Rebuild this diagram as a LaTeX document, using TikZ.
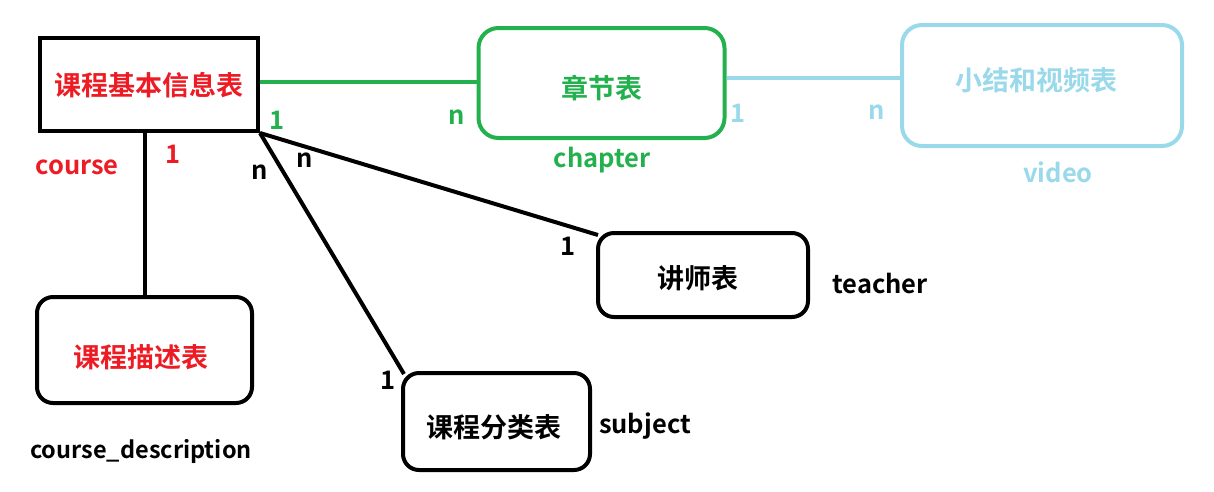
\documentclass[tikz,border=0pt]{standalone}
\usepackage{fontspec}
\setmainfont{Noto Sans CJK SC}[BoldFont={Noto Sans CJK SC Bold}]
\definecolor{myred}{RGB}{237,28,36}
\definecolor{mygreen}{RGB}{34,177,76}
\definecolor{myblue}{RGB}{153,217,234}
\tikzset{
  tbl/.style={draw, line width=4pt, inner sep=0pt},
  rtbl/.style={tbl, rounded corners=16pt},
  ttxt/.style={inner sep=0pt, font=\fontsize{27}{30}\selectfont\bfseries},
  lbl/.style={inner sep=0pt, font=\fontsize{25.5}{28}\selectfont\bfseries},
  conn/.style={line width=4pt}
}
\begin{document}
\begin{tikzpicture}[x=1pt,y=-1pt]
\useasboundingbox (0,0) rectangle (1214,491);
\node[tbl, minimum width=218pt, minimum height=93pt] (course) at (149,84.5) {};
\node[ttxt, text=myred] (coursetxt) at ([yshift=-0.5pt]course.center) {课程基本信息表};
\node[rtbl, draw=mygreen, minimum width=246pt, minimum height=110pt, rounded corners=20pt] (chapter) at (601.5,83) {};
\node[ttxt, text=mygreen] (chaptertxt) at ([yshift=-5pt]chapter.center) {章节表};
\node[rtbl, draw=myblue, minimum width=280pt, minimum height=121pt, rounded corners=20pt] (video) at (1042,85.5) {};
\node[ttxt, text=myblue] (videotxt) at ([xshift=-6pt,yshift=5.5pt]video.center) {小结和视频表};
\node[rtbl, minimum width=210pt, minimum height=84pt] (teacher) at (703,275) {};
\node[ttxt] (teachertxt) at ([xshift=-5pt,yshift=-3pt]teacher.center) {讲师表};
\node[rtbl, minimum width=215pt, minimum height=106pt] (desc) at (144.5,350) {};
\node[ttxt, text=myred] (desctxt) at ([xshift=-4pt,yshift=-7pt]desc.center) {课程描述表};
\node[rtbl, minimum width=187pt, minimum height=97pt] (subject) at (496.5,421.5) {};
\node[ttxt] (subjecttxt) at ([xshift=-3pt,yshift=-5.5pt]subject.center) {课程分类表};

\draw[conn, mygreen] ([yshift=2.5pt]course.east) -- ([yshift=1pt]chapter.west);
\draw[conn, myblue] ([yshift=5pt]chapter.east) -- ([yshift=7.5pt]video.west);
\draw[conn] (desc.north |- course.south) -- (desc.north);
\draw[conn] (course.south east) -- ([xshift=2pt,yshift=-4pt]teacher.north west);
\draw[conn] (course.south east) -- ([xshift=3pt,yshift=-3pt]subject.north west);

\node[lbl, text=mygreen] (g1) at (277,120) {1};
\node[lbl, text=mygreen] (gn) at (457,117) {n};
\node[lbl, text=mygreen] (chl) at (602,160) {chapter};
\node[lbl, text=myblue] (b1) at (738,113) {1};
\node[lbl, text=myblue] (bn) at (877,112) {n};
\node[lbl, text=myblue] (vl) at (1058,172) {video};
\node[lbl, text=myred] (cl) at (77,167) {course};
\node[lbl, text=myred] (r1) at (173,154) {1};
\node[lbl] (n1) at (260,172) {n};
\node[lbl] (n2) at (305,160) {n};
\node[lbl] (t1) at (568,246) {1};
\node[lbl] (s1) at (388,380) {1};
\node[lbl] (tl) at (880,283) {teacher};
\node[lbl] (sl) at (645,426) {subject};
\node[lbl, font=\fontsize{23.5}{26}\selectfont\bfseries] (dl) at (141,451) {course\_description};
\end{tikzpicture}
\end{document}
